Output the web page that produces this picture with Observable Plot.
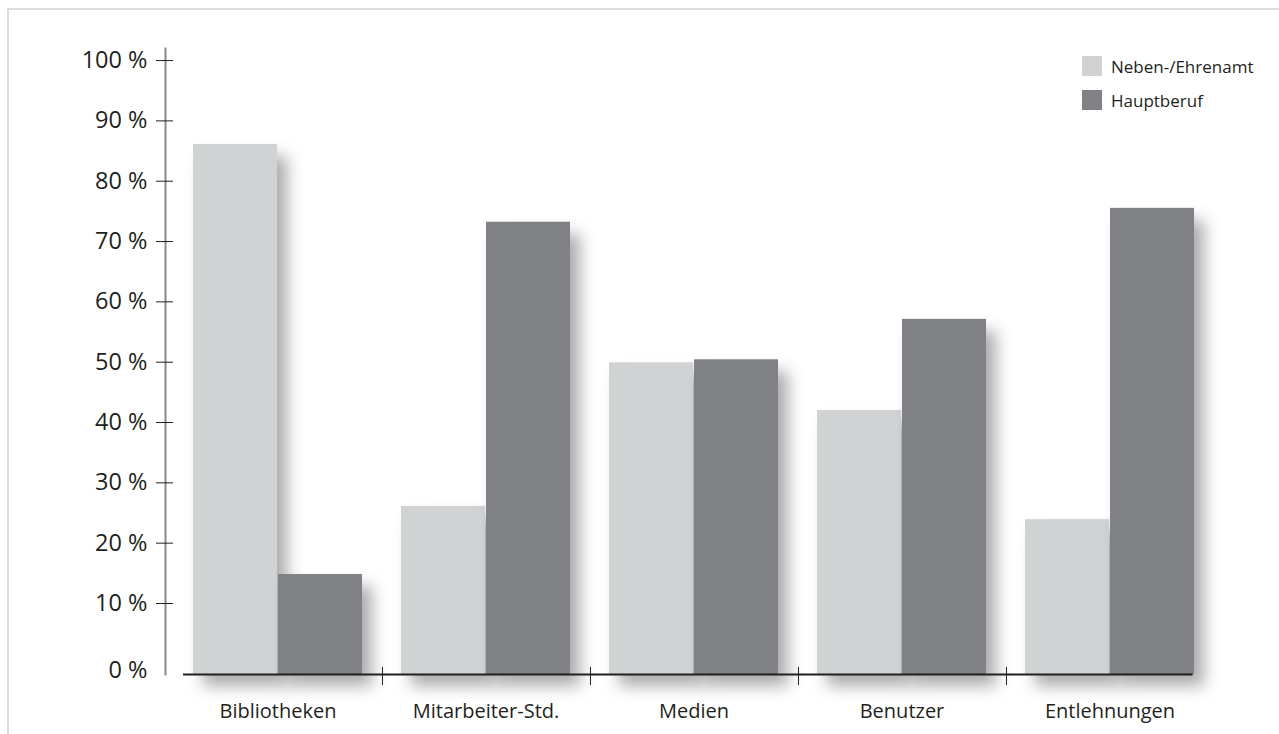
<!DOCTYPE html>
<html><head><meta charset="utf-8">
<script src="https://cdn.jsdelivr.net/npm/d3@7"></script>
<script src="https://cdn.jsdelivr.net/npm/@observablehq/plot@0.6"></script>
<style>
body{margin:0;background:#fff;font-family:"Open Sans",sans-serif;}
#wrap{position:relative;width:1279px;height:734px;overflow:hidden;background:#fff;}
#chart{position:absolute;left:0;top:0;}
#border{position:absolute;left:7px;top:8px;width:1290px;height:740px;border-left:2px solid #dcdcdc;border-top:2px solid #dcdcdc;pointer-events:none;}
#legend{position:absolute;left:1082px;top:56px;font-family:"Open Sans",sans-serif;font-size:17px;color:#231f20;}
.item{display:flex;align-items:center;height:20px;margin-bottom:14px;}
.sw{width:20px;height:20px;margin-right:9px;}
</style></head>
<body>
<div id="wrap"><div id="chart"></div><div id="border"></div><div id="legend"></div></div>
<script>
const categories = ["Bibliotheken", "Mitarbeiter-Std.", "Medien", "Benutzer", "Entlehnungen"];
const seriesNames = ["Neben-/Ehrenamt", "Hauptberuf"];
const nebenValues = [86.1, 26.1, 49.9, 42.0, 23.9];
const hauptValues = [14.8, 73.2, 50.4, 57.1, 75.5];
const seriesColors = ["#d1d2d4", "#808184"];
const yTickValues = [10, 20, 30, 40, 50, 60, 70, 80, 90, 100];
const yZeroTick = [0];

const yMin = -1.77;
const data = [];
categories.forEach((c, i) => {
  data.push({category: c, series: seriesNames[0], value: nebenValues[i]});
  data.push({category: c, series: seriesNames[1], value: hauptValues[i]});
});
const neben = data.filter(d => d.series === seriesNames[0]);
const haupt = data.filter(d => d.series === seriesNames[1]);

const W = 1279, H = 734;
const stepPx = 208.95;

const plot = Plot.plot({
  width: W,
  height: H,
  marginLeft: 165,
  marginRight: 56.4,
  marginTop: 48,
  marginBottom: 60,
  style: {background: "transparent", fontFamily: "'Open Sans', sans-serif", color: "#231f20"},
  x: {domain: categories, paddingInner: 0.1864, paddingOuter: 0.124, axis: null},
  y: {domain: [yMin, 102], axis: null},
  color: {domain: seriesNames, range: seriesColors},
  marks: [
    Plot.barY(neben, {x: "category", y1: yMin, y2: "value", fill: "series", insetRight: 85}),
    Plot.barY(haupt, {x: "category", y1: yMin, y2: "value", fill: "series", insetLeft: 85}),
    Plot.frame({anchor: "left", stroke: "#8a8a8a", strokeWidth: 2}),
    Plot.ruleY([yMin], {stroke: "#231f20", strokeWidth: 2, insetLeft: 18, insetRight: 30}),
    Plot.axisY({ticks: yTickValues, tickSize: 17, dx: 8, tickPadding: 9, tickFormat: d => `${d} %`, label: null, fontSize: 23.5, color: "#231f20"}),
    Plot.axisY({ticks: yZeroTick, tickSize: 0, tickPadding: 18, dy: 7, tickFormat: d => `${d} %`, label: null, fontSize: 23.5, color: "#231f20"}),
    Plot.axisX({tickSize: 0, tickPadding: 29, label: null, fontSize: 20, color: "#231f20"}),
    Plot.axisX({ticks: categories.slice(0, 4), tickSize: 18, dx: stepPx / 2, dy: -7, tickFormat: () => "", label: null, color: "#231f20"})
  ]
});
document.getElementById("chart").appendChild(plot);

// soft drop shadows on bars
plot.querySelectorAll('g[aria-label="bar"]').forEach(g => {
  g.style.filter = "drop-shadow(10px 12px 8px rgba(0,0,0,0.33))";
});

// legend
const leg = document.getElementById("legend");
seriesNames.forEach((s, i) => {
  const it = document.createElement("div");
  it.className = "item";
  const sw = document.createElement("div");
  sw.className = "sw";
  sw.style.background = seriesColors[i];
  const t = document.createElement("span");
  t.textContent = s;
  it.appendChild(sw); it.appendChild(t);
  leg.appendChild(it);
});
</script>
</body></html>
